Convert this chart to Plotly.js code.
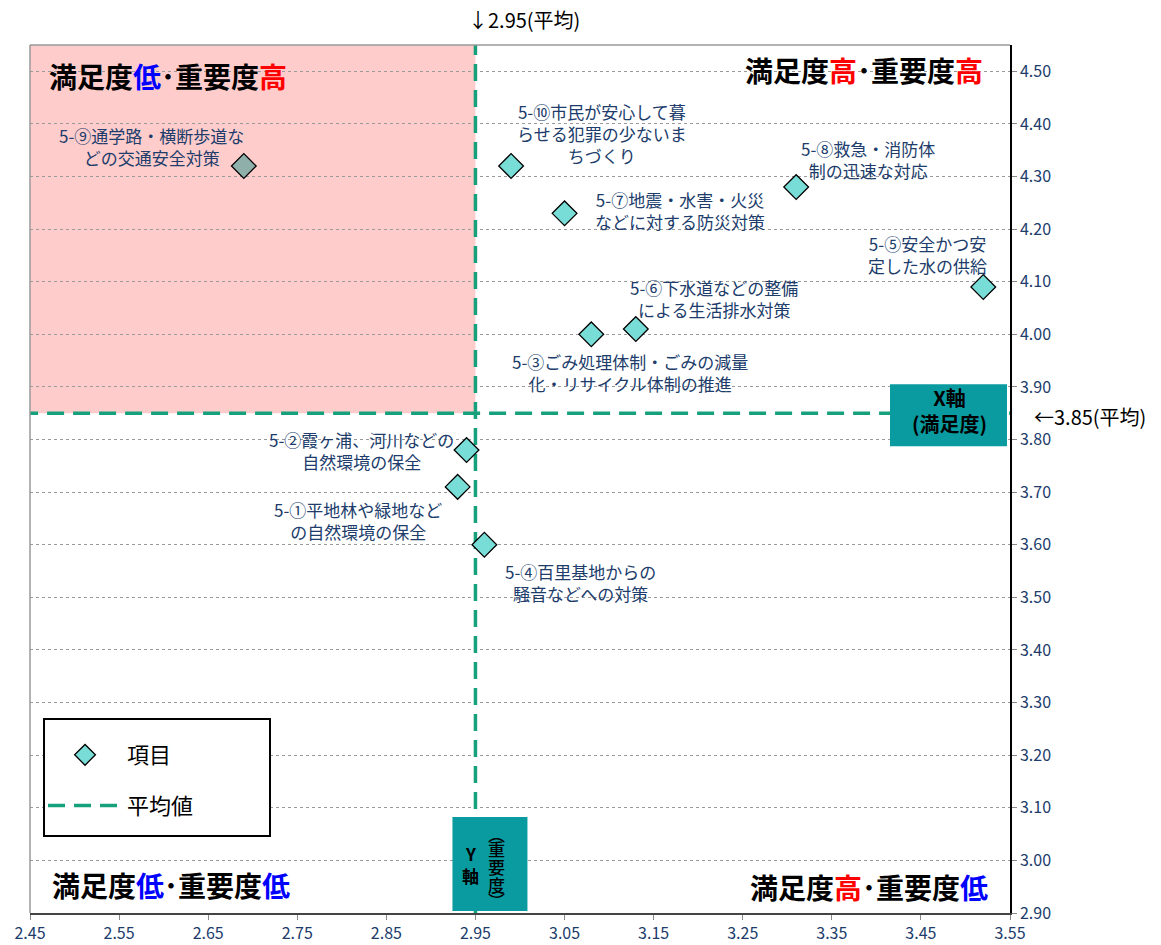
<!DOCTYPE html>
<html>
<head>
<meta charset="utf-8">
<script src="https://cdn.plot.ly/plotly-3.0.1.min.js"></script>
<style>
  body { margin: 0; background: #fff; }
  #chart { width: 1161px; height: 945px; }
</style>
</head>
<body>
<div id="chart"></div>
<script>
// 項目名（改行位置は元の図に合わせる）
var labels = [
  "5-①平地林や緑地など<br>の自然環境の保全",
  "5-②霞ヶ浦、河川などの<br>自然環境の保全",
  "5-③ごみ処理体制・ごみの減量<br>化・リサイクル体制の推進",
  "5-④百里基地からの<br>騒音などへの対策",
  "5-⑤安全かつ安<br>定した水の供給",
  "5-⑥下水道などの整備<br>による生活排水対策",
  "5-⑦地震・水害・火災<br>などに対する防災対策",
  "5-⑧救急・消防体<br>制の迅速な対応",
  "5-⑨通学路・横断歩道な<br>どの交通安全対策",
  "5-⑩市民が安心して暮<br>らせる犯罪の少ないま<br>ちづくり"
];
var satisfaction = [2.93, 2.94, 3.08, 2.96, 3.52, 3.13, 3.05, 3.31, 2.69, 2.99];
var importance   = [3.71, 3.78, 4.00, 3.60, 4.09, 4.01, 4.23, 4.28, 4.32, 4.32];
var avgSatisfaction = 2.95;
var avgImportance = 3.85;

var xRange = [2.45, 3.55];
var yRange = [2.90, 4.55];

// ラベルの位置ずらし（px）
var labelShift = [[-100, -34], [-105, 0], [39, -38], [96, -38], [-56, 32],
                  [78, 31], [115, 3], [72, 28], [-92, 19], [91, 32]];

var font = "Noto Sans CJK JP, Noto Sans, sans-serif";
var navy = "#203c6b";
var lineColor = "#17a07c";

var markerColors = satisfaction.map(function(x, i) {
  return (x < avgSatisfaction && importance[i] > avgImportance) ? "#8fb0aa" : "#79ddd7";
});

var avgTrace = {
  x: [xRange[0] - 0.01, xRange[1], null, avgSatisfaction, avgSatisfaction],
  y: [avgImportance, avgImportance, null, yRange[0], yRange[1]],
  mode: "lines",
  type: "scatter",
  name: "平均値",
  legendgroup: "avg",
  legendrank: 2,
  cliponaxis: false,
  line: {color: lineColor, width: 3.5, dash: "17px,9px"},
  hoverinfo: "skip"
};

var itemTrace = {
  x: satisfaction,
  y: importance,
  text: labels,
  mode: "markers",
  type: "scatter",
  name: "項目",
  legendgroup: "items",
  legendrank: 1,
  marker: {symbol: "diamond", size: 19, color: markerColors,
           line: {color: "#000", width: 1.3}}
};

var annotations = labels.map(function(t, i) {
  return {
    x: satisfaction[i], y: importance[i], xref: "x", yref: "y",
    text: t, showarrow: false, align: "center",
    xshift: labelShift[i][0], yshift: labelShift[i][1],
    font: {family: font, size: 17, color: navy}
  };
});

function quadrant(a, b) {
  var c = {"低": "#0000ff", "高": "#ff0000"};
  return "<b>満足度<span style='color:" + c[a] + "'>" + a + "</span>･重要度<span style='color:" +
         c[b] + "'>" + b + "</span></b>";
}
var qFont = {family: font, size: 28, color: "#000"};
annotations.push(
  {xref: "paper", yref: "paper", x: 0.017, y: 0.964, xanchor: "left", yanchor: "middle",
   text: quadrant("低", "高"), showarrow: false, font: qFont},
  {xref: "paper", yref: "paper", x: 0.974, y: 0.971, xanchor: "right", yanchor: "middle",
   text: quadrant("高", "高"), showarrow: false, font: qFont},
  {xref: "paper", yref: "paper", x: 0.020, y: 0.032, xanchor: "left", yanchor: "middle",
   text: quadrant("低", "低"), showarrow: false, font: qFont},
  {xref: "paper", yref: "paper", x: 0.980, y: 0.030, xanchor: "right", yanchor: "middle",
   text: quadrant("高", "低"), showarrow: false, font: qFont},
  // 平均値の注記
  {xref: "x", yref: "paper", x: avgSatisfaction, y: 1.029, xanchor: "left", yanchor: "middle",
   xshift: -9, text: "↓" + avgSatisfaction.toFixed(2) + "(平均)", showarrow: false,
   font: {family: font, size: 20, color: "#000"}},
  {xref: "paper", yref: "y", x: 1, y: avgImportance, xanchor: "left", yanchor: "middle",
   xshift: 22, yshift: -3, text: "←" + avgImportance.toFixed(2) + "(平均)", showarrow: false,
   font: {family: font, size: 20, color: "#000"}},
  // 軸ボックスの文字
  {xref: "x", yref: "y", x: xRange[1], y: avgImportance, xshift: -61, yshift: 3,
   text: "<b>X軸<br>(満足度)</b>", showarrow: false,
   font: {family: font, size: 20, color: "#000"}}
);

// Y軸ボックスの縦書き文字
var yBoxChars = [["Y", -5, 60], ["軸", -5, 38],
                 ["︵", 21, 80], ["重", 21, 65], ["要", 21, 47], ["度", 21, 29], ["︶", 21, 13]];
yBoxChars.forEach(function(c) {
  annotations.push({xref: "x", yref: "y", x: avgSatisfaction, y: yRange[0],
    xshift: c[1], yshift: c[2], text: c[0], showarrow: false,
    font: {family: font, size: 17, color: "#000", weight: c[1] < 0 ? 700 : 500}});
});

var boxColor = "#0a9ba0";
var shapes = [
  // 満足度低・重要度高の領域
  {type: "rect", xref: "x", yref: "y", x0: xRange[0], x1: avgSatisfaction,
   y0: avgImportance, y1: yRange[1], fillcolor: "#ffcccc", line: {width: 0}, layer: "below"},
  // 上・左の枠線
  {type: "line", xref: "paper", yref: "paper", x0: 0, x1: 1, y0: 1, y1: 1,
   line: {color: "#999", width: 1.5}},
  {type: "line", xref: "paper", yref: "paper", x0: 0, x1: 0, y0: 0, y1: 1,
   line: {color: "#999", width: 1.5}},
  // X軸ボックス
  {type: "rect", xref: "x", yref: "y", xsizemode: "pixel", ysizemode: "pixel",
   xanchor: xRange[1], yanchor: avgImportance, x0: -120, x1: -3, y0: -33, y1: 29,
   fillcolor: boxColor, line: {width: 0}, layer: "above"},
  // Y軸ボックス
  {type: "rect", xref: "x", yref: "y", xsizemode: "pixel", ysizemode: "pixel",
   xanchor: avgSatisfaction, yanchor: yRange[0], x0: -23, x1: 52, y0: 2, y1: 96,
   fillcolor: boxColor, line: {width: 0}, layer: "above"},
  // 凡例の枠
  {type: "rect", xref: "paper", yref: "paper", x0: 0.0143, x1: 0.2449, y0: 0.0887, y1: 0.2235,
   fillcolor: "#fff", line: {color: "#000", width: 2}, layer: "above"}
];

var layout = {
  width: 1161,
  height: 945,
  margin: {l: 30, r: 151, t: 45, b: 32},
  paper_bgcolor: "#fff",
  plot_bgcolor: "#fff",
  font: {family: font, color: navy},
  showlegend: true,
  legend: {
    x: 0.0133, y: 0.2062, xanchor: "left", yanchor: "top",
    bgcolor: "rgba(0,0,0,0)", borderwidth: 0,
    font: {family: font, size: 22, color: "#000"},
    traceorder: "grouped", tracegroupgap: 19, itemwidth: 74
  },
  xaxis: {
    range: xRange, tick0: 2.45, dtick: 0.1, tickformat: ".2f",
    showgrid: false, zeroline: false,
    showline: true, linecolor: "#444", linewidth: 1.5,
    ticks: "outside", ticklen: 5, tickcolor: "#888",
    tickfont: {family: font, size: 16, color: navy}
  },
  yaxis: {
    range: yRange, tick0: 2.9, dtick: 0.1, tickformat: ".2f", side: "right",
    showgrid: true, gridcolor: "#9a9a9a", griddash: "dot", gridwidth: 1,
    zeroline: false, showline: true, linecolor: "#000", linewidth: 1.5,
    ticks: "outside", ticklen: 5, tickcolor: "#888",
    tickfont: {family: font, size: 16, color: navy}
  },
  shapes: shapes,
  annotations: annotations
};

Plotly.newPlot("chart", [avgTrace, itemTrace], layout, {displayModeBar: false});
</script>
</body>
</html>
